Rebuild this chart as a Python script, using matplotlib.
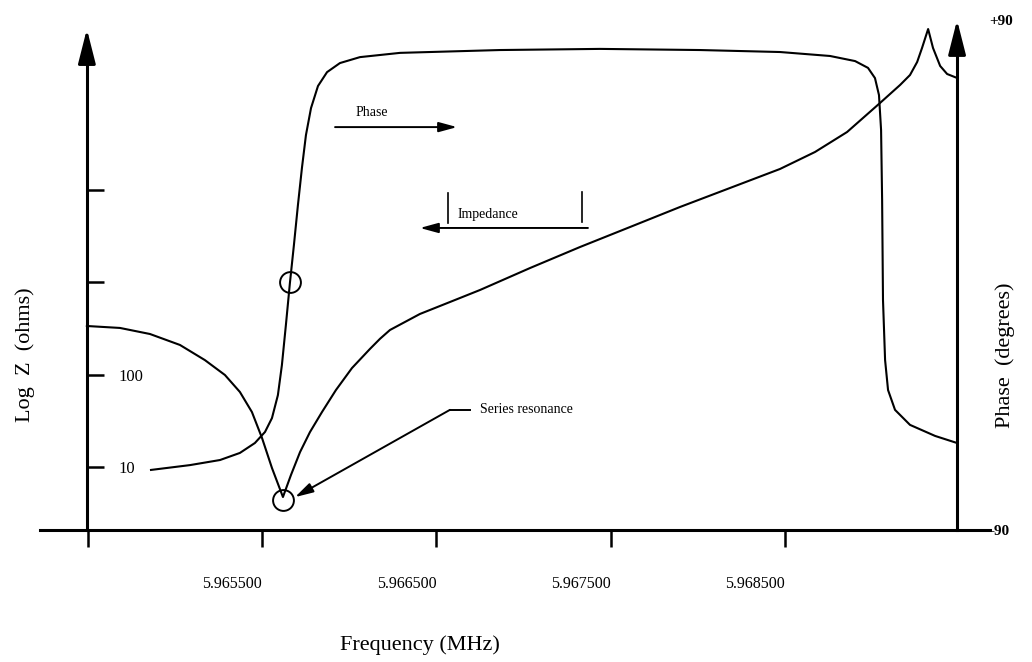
import matplotlib
matplotlib.use("Agg")
import matplotlib.pyplot as plt

plt.rcParams["font.family"] = ["Liberation Serif", "DejaVu Serif"]

# impedance curve (MHz, ohms)
imp_freq = [5.964494, 5.964684, 5.964856, 5.965028, 5.965171, 5.965286, 5.965372,
            5.965441, 5.965499, 5.965556, 5.965619, 5.965665, 5.965717, 5.965774,
            5.965843, 5.965923, 5.966015, 5.966118, 5.966176, 5.966233, 5.966405,
            5.966578, 5.966750, 5.967037, 5.967324, 5.967611, 5.967897, 5.968184,
            5.968471, 5.968672, 5.968856, 5.969045, 5.969160, 5.969217, 5.969258,
            5.969286, 5.969321, 5.969349, 5.969390, 5.969430, 5.969487]
imp_ohms = [337, 321, 276, 210, 144, 99.3, 65.0, 39.4, 20.6, 9.75, 4.73, 8.19, 14.5,
            23.9, 39.4, 68.2, 118, 190, 245, 305, 455, 614, 828, 1432, 2420, 3985,
            6560, 10540, 16940, 25880, 42600, 87900, 137700, 176600, 244300, 346700,
            556000, 346700, 221300, 181100, 164100]

# phase curve (MHz, degrees)
ph_freq = [5.964862, 5.965085, 5.965258, 5.965372, 5.965458, 5.965516, 5.965556,
           5.965590, 5.965613, 5.965636, 5.965659, 5.965682, 5.965705, 5.965728,
           5.965751, 5.965780, 5.965820, 5.965872, 5.965946, 5.966061, 5.966291,
           5.966864, 5.967438, 5.968012, 5.968471, 5.968758, 5.968902, 5.968976,
           5.969016, 5.969039, 5.969051, 5.969057, 5.969062, 5.969074, 5.969091,
           5.969131, 5.969217, 5.969361, 5.969487]
ph_deg = [-68.8, -67.1, -65.3, -62.8, -59.3, -55.4, -50.5, -42.4, -31.8, -17.6, -2.8,
          10.6, 24.7, 37.8, 49.4, 58.9, 66.7, 71.6, 74.8, 76.9, 78.4, 79.4, 79.8, 79.4,
          78.7, 77.3, 75.5, 73.1, 69.5, 63.5, 51.2, 26.5, -8.8, -30.0, -40.6, -47.6,
          -52.9, -56.8, -59.3]

x_ticks = [5.9645, 5.9655, 5.9665, 5.9675, 5.9685]
x_tick_labels = ["", "5.965500", "5.966500", "5.967500", "5.968500"]
z_ticks = [10, 100, 1000, 10000]
z_tick_labels = ["10", "100", "", ""]

f_left = 5.964494
f_right = 5.969487
z_top = 556000

W, H = 1032, 662
fig = plt.figure(figsize=(W / 100, H / 100), dpi=100)
ax = fig.add_axes([40 / W, (H - 530) / H, 950 / W, 510 / H])
ax.set_yscale("log")
ax.set_xlim(5.964225, 5.969676)
ax.set_ylim(10 ** 0.3174, 10 ** 5.843)

ax.plot(imp_freq, imp_ohms, color="black", lw=1.5, solid_joinstyle="round")

# axes lines
for s in ["top", "right"]:
    ax.spines[s].set_visible(False)
ax.spines["bottom"].set_linewidth(2.2)
ax.spines["left"].set_position(("data", f_left))
ax.spines["left"].set_bounds(10 ** 0.3174, z_top * 0.6)
ax.spines["left"].set_linewidth(2.2)

ax.set_xticks(x_ticks)
ax.set_xticklabels(x_tick_labels, fontsize=11.5)
for lab in ax.get_xticklabels():
    lab.set_horizontalalignment("right")
ax.tick_params(axis="x", direction="out", length=12, width=1.8, pad=21)
ax.set_yticks(z_ticks)
ax.set_yticklabels(z_tick_labels, fontsize=12)
ax.yaxis.set_minor_locator(matplotlib.ticker.NullLocator())
ax.tick_params(axis="y", direction="in", length=12, width=1.8, pad=-23)
for lab in ax.get_yticklabels():
    lab.set_horizontalalignment("left")

ax.annotate("", xy=(f_left, z_top), xytext=(f_left, z_top * 0.5),
            arrowprops=dict(arrowstyle="-|>,head_length=1.5,head_width=0.38",
                            mutation_scale=14, color="black", lw=2.2,
                            shrinkA=0, shrinkB=0))

# resonance markers
ax.plot([5.965659], [1000], "o", ms=15, mfc="none", mec="black", mew=1.4)
ax.plot([5.965619], [4.39], "o", ms=15, mfc="none", mec="black", mew=1.4)

# phase on second axis
ax2 = ax.twinx()
ax2.set_ylim(-90, 90)
ax2.plot(ph_freq, ph_deg, color="black", lw=1.5, solid_joinstyle="round")
for s in ["top", "left", "bottom"]:
    ax2.spines[s].set_visible(False)
ax2.spines["right"].set_position(("data", f_right))
ax2.spines["right"].set_bounds(-90, 82)
ax2.spines["right"].set_linewidth(2.2)
ax2.set_yticks([-90, 90])
ax2.set_yticklabels(["-90", "+90"], fontsize=11, fontweight="bold")
ax2.tick_params(axis="y", length=0, pad=23)

ax2.annotate("", xy=(f_right, 90), xytext=(f_right, 80),
             arrowprops=dict(arrowstyle="-|>,head_length=1.5,head_width=0.38",
                             mutation_scale=14, color="black", lw=2.2,
                             shrinkA=0, shrinkB=0))

# text annotations
arrow_small = dict(arrowstyle="-|>,head_length=1.1,head_width=0.3",
                   mutation_scale=10, color="black", lw=1.4, shrinkA=0, shrinkB=0)
ax2.text(5.966130, 57.2, "Phase", fontsize=10, ha="center", va="center")
ax2.annotate("", xy=(5.966618, 52.2), xytext=(5.965918, 52.2), arrowprops=arrow_small)

ax2.text(5.966618, 21.2, "Impedance", fontsize=10, ha="left", va="center")
ax2.plot([5.966566, 5.966566], [18.4, 28.9], color="black", lw=1.2)
ax2.plot([5.967335, 5.967335], [18.7, 29.3], color="black", lw=1.2)
ax2.annotate("", xy=(5.966405, 16.6), xytext=(5.967369, 16.6), arrowprops=arrow_small)

ax2.text(5.966750, -47.6, "Series resonance", fontsize=10, ha="left", va="center")
ax2.plot([5.966577, 5.966692], [-47.6, -47.6], color="black", lw=1.4)
ax2.annotate("", xy=(5.965688, -78.4), xytext=(5.966577, -47.6), arrowprops=arrow_small)

fig.text(25 / W, 1 - 355 / H, "Log  Z  (ohms)", rotation=90, fontsize=16,
         ha="center", va="center")
fig.text(1005 / W, 1 - 355 / H, "Phase  (degrees)", rotation=90, fontsize=16,
         ha="center", va="center")
fig.text(340 / W, 1 - 645 / H, "Frequency (MHz)", fontsize=16, ha="left", va="center")

fig.savefig("out.png", dpi=100)
